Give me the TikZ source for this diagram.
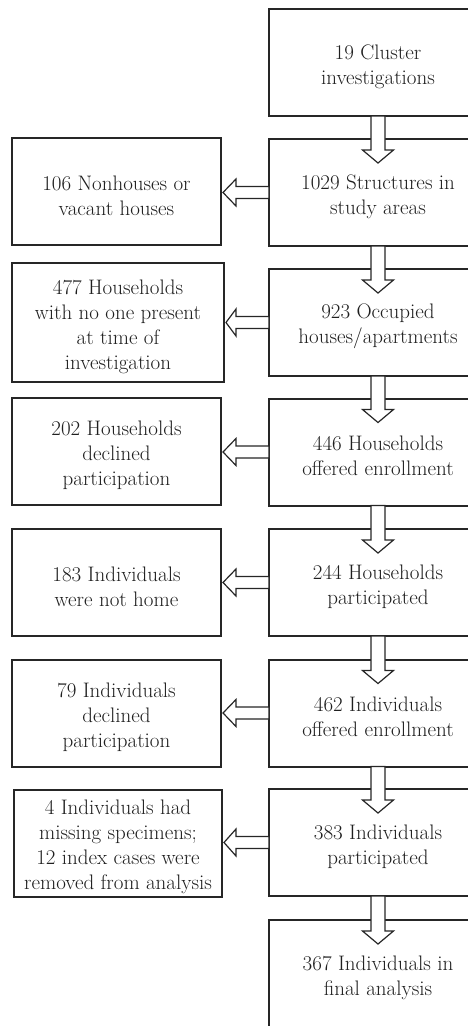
\documentclass[tikz,border=0pt]{standalone}
\usepackage{fontspec}
\newcommand\arrdn[2]{%
  \draw[blk] ([xshift=-7pt]#1.south) -- ([xshift=-7pt,yshift=-11pt]#2.north)
    -- ([xshift=-15.5pt,yshift=-11pt]#2.north) -- ([yshift=-24pt]#2.north)
    -- ([xshift=15.5pt,yshift=-11pt]#2.north) -- ([xshift=7pt,yshift=-11pt]#2.north)
    -- ([xshift=7pt]#1.south) -- cycle;}
\newcommand\arrlf[2]{%
  \draw[blk] ([yshift=6pt]#1.west) -- ([xshift=-33pt,yshift=6pt]#1.west)
    -- ([xshift=-33pt,yshift=13.5pt]#1.west) -- ([xshift=2pt]#2.east |- #1.west)
    -- ([xshift=-33pt,yshift=-13.5pt]#1.west) -- ([xshift=-33pt,yshift=-6pt]#1.west)
    -- ([yshift=-6pt]#1.west) -- cycle;}
\newcommand\ts{\rule{0pt}{23pt}}
\begin{document}
\begin{tikzpicture}[x=1pt,y=-1pt,
  box/.style={draw=black!85, line width=2pt, fill=white, inner sep=0pt, outer sep=0pt,
    align=center, font=\fontsize{21}{25}\selectfont, text=black!88},
  rbox/.style={box, minimum width=218pt, minimum height=107pt},
  lbox/.style={box, minimum width=209pt, minimum height=107pt},
  blk/.style={draw=black!85, line width=1.2pt, fill=white, line join=miter}]
\useasboundingbox (0,0) rectangle (468,1026);
\clip (0,0) rectangle (468,1026);
\node[rbox] (r1) at (378,62.5) {\ts 19 Cluster\\investigations};
\node[rbox] (r2) at (378,192.5) {\ts 1029 Structures in\\study areas};
\node[rbox] (r3) at (378,322.5) {\ts 923 Occupied\\houses/apartments};
\node[rbox] (r4) at (378,452) {\ts 446 Households\\offered enrollment};
\node[rbox] (r5) at (378,582.5) {\ts 244 Households\\participated};
\node[rbox] (r6) at (378,713) {\ts 462 Individuals\\offered enrollment};
\node[rbox] (r7) at (378,842.5) {\ts 383 Individuals\\participated};
\node[rbox] (r8) at (378,973.5) {\ts 367 Individuals in\\final analysis};
\node[lbox] (l2) at (116.5,191.5) {\ts 106 Nonhouses or\\vacant houses};
\node[lbox, minimum width=212pt, minimum height=119pt] (l3) at (118,322.5) {\ts 477 Households\\with no one present\\at time of\\investigation};
\node[lbox] (l4) at (116.5,451.5) {\ts 202 Households\\declined\\participation};
\node[lbox] (l5) at (116.5,582.5) {\ts 183 Individuals\\were not home};
\node[lbox] (l6) at (116.5,713) {\ts 79 Individuals\\declined\\participation};
\node[lbox, minimum width=208pt] (l7) at (118,843) {\ts 4 Individuals had\\missing specimens;\\12 index cases were\\removed from analysis};
\arrdn{r1}{r2}
\arrdn{r2}{r3}
\arrdn{r3}{r4}
\arrdn{r4}{r5}
\arrdn{r5}{r6}
\arrdn{r6}{r7}
\arrdn{r7}{r8}
\arrlf{r2}{l2}
\arrlf{r3}{l3}
\arrlf{r4}{l4}
\arrlf{r5}{l5}
\arrlf{r6}{l6}
\arrlf{r7}{l7}
\end{tikzpicture}
\end{document}
